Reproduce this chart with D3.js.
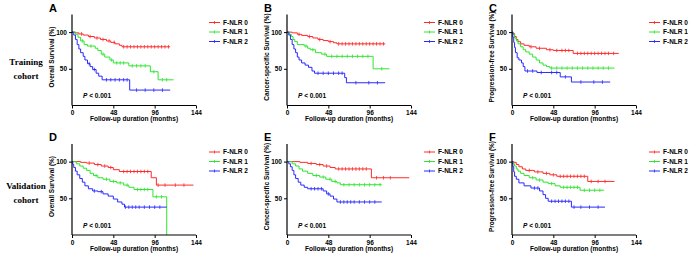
<!DOCTYPE html>
<html>
<head>
<meta charset="utf-8">
<script src="https://cdn.jsdelivr.net/npm/d3@7"></script>
<style>
  body { margin: 0; background: #fff; }
  svg text { font-family: "Liberation Sans", Arial, sans-serif; font-weight: bold; }
</style>
</head>
<body>
<div id="chart-container"></div>
<script>
/**************************************************
 * Data
 **************************************************/

const groups = ["F-NLR 0", "F-NLR 1", "F-NLR 2"];
const groupColors = ["#ff2a2a", "#2ee62e", "#2a2aff"];
const xTicks = [0, 48, 96, 144];
const yTicks = [50, 100];
const panelLetters = ["A", "B", "C", "D", "E", "F"];
const yTitles = ["Overall Survival (%)", "Cancer-specific Survival (%)", "Progression-free Survival (%)",
                 "Overall Survival (%)", "Cancer-specific Survival (%)", "Progression-free Survival (%)"];
const xTitle = "Follow-up duration (months)";
const rowLabels = [["Training", "cohort"], ["Validation", "cohort"]];

// steps: [month, survival % after the step], one list per group
const stepsA = [
  [[0,100],[4,99],[8,97.5],[13,96],[19,94],[26,92],[33,90],[40,88],[45,86],[50,84],[55,82],[58,80]],
  [[0,100],[4,97],[7,93],[10,88],[14,83],[18,81],[27,78],[30,75],[34,70],[38,66],[44,62],[48,58],[66,54],[91,46],[100,35]],
  [[0,100],[2,96],[4,90],[6,83],[8,77],[10,72],[13,67],[15,62],[18,57],[21,53],[24,49],[28,44],[31,40],[35,35],[67,21]]
];
const stepsB = [
  [[0,100],[6,99],[12,97],[17,95.5],[24,94],[30,92],[36,90],[42,88.5],[48,87],[54,85.5],[58,84]],
  [[0,100],[3,97],[5,94],[7,90],[9,87],[12,83],[20,81],[24,78],[27,76],[33,72],[40,70],[46,67],[100,50]],
  [[0,100],[2,96],[4,90],[6,83],[8,77],[10,72],[12,66],[14,62],[17,58],[21,55],[25,52],[29,47],[32,44],[67,38],[69,31]]
];
const stepsC = [
  [[0,100],[1,98],[3,94],[5,90],[7,87],[10,84],[14,82],[20,80],[28,78],[40,76],[48,75],[71,71]],
  [[0,100],[1,97],[3,92],[5,88],[7,84],[10,80],[13,76],[16,73],[20,70],[24,66],[28,62],[32,58],[36,55],[40,53],[44,51]],
  [[0,100],[1,93],[2,86],[3,79],[4,72],[6,65],[8,62],[11,58],[13,53],[15,47],[29,45],[56,39],[69,32]]
];
const stepsD = [
  [[0,100],[10,99],[17,98],[26,96],[34,94],[42,92],[48,89],[55,86.5],[92,78],[98,68]],
  [[0,100],[5,97],[9,94],[13,91],[17,88],[21,84],[25,81],[30,78],[36,76],[44,73],[52,71],[60,68],[66,65],[72,62],[94,52],[110,0]],
  [[0,100],[1,96],[2,92],[4,87],[6,82],[9,77],[12,72],[15,67],[19,63],[24,60],[30,59],[36,56],[42,53],[48,49],[53,45],[58,42],[61,38]]
];
const stepsE = [
  [[0,100],[15,99],[24,97.5],[34,96],[42,94],[50,92],[56,90],[98,78]],
  [[0,100],[6,97],[10,94],[14,90],[18,87],[24,84],[30,81],[38,79],[45,76],[52,73],[58,71],[62,68.5]],
  [[0,100],[2,97],[4,93],[6,88],[8,82],[10,77],[13,72],[16,68],[20,65],[24,63],[42,60],[46,56],[50,53],[54,49],[58,45]]
];
const stepsF = [
  [[0,100],[2,99],[5,96],[8,93],[12,90],[16,88],[26,86],[36,84],[44,82],[52,80],[88,73]],
  [[0,100],[1,97],[3,94],[5,90],[7,87],[10,84],[14,81],[20,78],[28,75],[36,72],[42,70],[50,67],[56,65],[79,61]],
  [[0,100],[1,93],[2,86],[3,80],[5,76],[8,71],[14,67],[22,64],[32,60],[36,55],[39,50],[42,46],[69,38]]
];

// last follow-up month of each curve
const endA = [114, 118, 114];
const endB = [114, 119, 114];
const endC = [124, 119, 114];
const endD = [141, 110, 110];
const endE = [142, 110, 110];
const endF = [119, 107, 108];

// censored observations (months)
const censorA = [
  [11,21,29,36,43,49,60,64,68,72,76,80,84,88,92,96,100,104,108,112],
  [12,22,36,46,52,56,60,70,75,80,85,95,105,110],
  [20,26,40,45,50,55,60,64,75,85,95,105]
];
const censorB = [
  [14,26,38,50,60,64,68,72,76,80,84,88,92,96,100,104,108,112],
  [22,30,44,52,58,64,70,76,82,88,94,110],
  [36,42,48,54,60,64,80,95,105]
];
const censorC = [
  [22,32,44,52,58,62,66,76,80,84,88,92,96,100,104,108,112,118],
  [46,52,58,64,70,76,82,88,94,100,106,112],
  [18,24,34,46,52,62,80,95,105]
];
const censorD = [
  [20,30,38,45,60,64,68,72,76,80,84,88,100,108,120,130],
  [28,40,48,56,64,76,80,84,88,98,104],
  [26,34,62,66,70,74,78,84,90,96,102]
];
const censorE = [
  [28,38,46,60,64,68,72,76,80,84,88,92,104,112,120],
  [34,42,50,56,66,72,78,84,90,96,102,108],
  [28,32,36,40,48,62,66,70,74,78,84,90,96,102]
];
const censorF = [
  [20,30,40,48,56,60,64,68,72,76,80,84,92,100,108],
  [24,32,46,60,64,68,72,76,84,90,96,102],
  [26,30,46,50,54,58,62,66,72,80,90,100]
];

const panelSteps = [stepsA, stepsB, stepsC, stepsD, stepsE, stepsF];
const panelEnds = [endA, endB, endC, endD, endE, endF];
const panelCensors = [censorA, censorB, censorC, censorD, censorE, censorF];

/**************************************************
 * Layout
 **************************************************/

const width = 689, height = 257;
const colX = [72, 287, 512];      // left edge of each plot (month 0)
const rowBottom = [105.5, 235];   // y of survival 0
const plotW = 124, plotH = 91;

const svg = d3.select("#chart-container")
  .append("svg")
  .attr("width", width)
  .attr("height", height);

// row labels
rowLabels.forEach((lines, r) => {
  const t = svg.append("text")
    .attr("text-anchor", "middle")
    .style("font-family", "'Liberation Serif', 'Times New Roman', serif")
    .style("font-size", "9px");
  lines.forEach((s, i) => {
    t.append("tspan")
      .attr("x", 26)
      .attr("y", (r === 0 ? 65 : 189) + i * 13.5)
      .text(s);
  });
});

function survivalAt(steps, t) {
  let v = steps[0][1];
  steps.forEach(d => { if (d[0] <= t) v = d[1]; });
  return v;
}

panelSteps.forEach((steps, p) => {
  const col = p % 3, row = Math.floor(p / 3);
  const x0 = colX[col], y0 = rowBottom[row];
  const top = y0 - plotH;

  const x = d3.scaleLinear().domain([0, 144]).range([x0, x0 + plotW]);
  const y = d3.scaleLinear().domain([0, 124]).range([y0, top]);

  const g = svg.append("g");

  // curves
  steps.forEach((s, i) => {
    const last = s[s.length - 1];
    const pts = s.concat([[panelEnds[p][i], last[1]]]);
    g.append("path")
      .datum(pts)
      .attr("fill", "none")
      .attr("stroke", groupColors[i])
      .attr("stroke-width", 1)
      .attr("d", d3.line().x(d => x(d[0])).y(d => y(d[1])).curve(d3.curveStepAfter));

    g.selectAll(null)
      .data(panelCensors[p][i])
      .enter()
      .append("line")
      .attr("x1", d => x(d)).attr("x2", d => x(d))
      .attr("y1", d => y(survivalAt(s, d)) - 1.8)
      .attr("y2", d => y(survivalAt(s, d)) + 1.8)
      .attr("stroke", groupColors[i])
      .attr("stroke-width", 0.8);
  });

  // axes
  const xAxis = d3.axisBottom(x).tickValues(xTicks).tickSize(3).tickPadding(2);
  const yAxis = d3.axisLeft(y).tickValues(yTicks).tickSize(3).tickPadding(2);

  const gx = g.append("g").attr("transform", `translate(0,${y0})`).call(xAxis);
  const gy = g.append("g").attr("transform", `translate(${x0},0)`).call(yAxis);
  [gx, gy].forEach(a => {
    a.select(".domain").attr("stroke", "#000").attr("stroke-width", 1.2);
    a.selectAll(".tick line").attr("stroke", "#000").attr("stroke-width", 1);
    a.selectAll("text").attr("font-size", "6.5px").attr("fill", "#000")
      .style("font-family", "'Liberation Sans', Arial, sans-serif");
  });
  // GraphPad style axis: no end ticks
  gy.select(".domain").attr("d", `M0,${y0}V${top}`);
  gx.select(".domain").attr("d", `M${x0},0H${x0 + plotW}`);

  // titles
  g.append("text")
    .attr("x", x0 + plotW / 2)
    .attr("y", y0 + 15.5)
    .attr("text-anchor", "middle")
    .attr("font-size", "6.5px")
    .text(xTitle);

  g.append("text")
    .attr("transform", `translate(${x0 - 18},${(y0 + top) / 2 - 3}) rotate(-90)`)
    .attr("text-anchor", "middle")
    .attr("font-size", "6.5px")
    .text(yTitles[p]);

  g.append("text")
    .attr("x", x0 - 23)
    .attr("y", top - 3)
    .attr("font-size", "11px")
    .text(panelLetters[p]);

  // p-value
  const pt = g.append("text")
    .attr("x", x0 + 11)
    .attr("y", y0 - 7.5)
    .attr("font-size", "6.5px");
  pt.append("tspan").style("font-style", "italic").text("P");
  pt.append("tspan").text(" < 0.001");

  // legend
  groups.forEach((name, i) => {
    const ly = top + 8 + i * 9.5;
    const lx = x0 + 137;
    g.append("line")
      .attr("x1", lx).attr("x2", lx + 11)
      .attr("y1", ly).attr("y2", ly)
      .attr("stroke", groupColors[i]).attr("stroke-width", 1);
    g.append("line")
      .attr("x1", lx + 5.5).attr("x2", lx + 5.5)
      .attr("y1", ly - 1.5).attr("y2", ly + 1.5)
      .attr("stroke", groupColors[i]).attr("stroke-width", 0.8);
    g.append("text")
      .attr("x", lx + 14)
      .attr("y", ly + 2.3)
      .attr("font-size", "6.5px")
      .text(name);
  });
});
</script>
</body>
</html>
